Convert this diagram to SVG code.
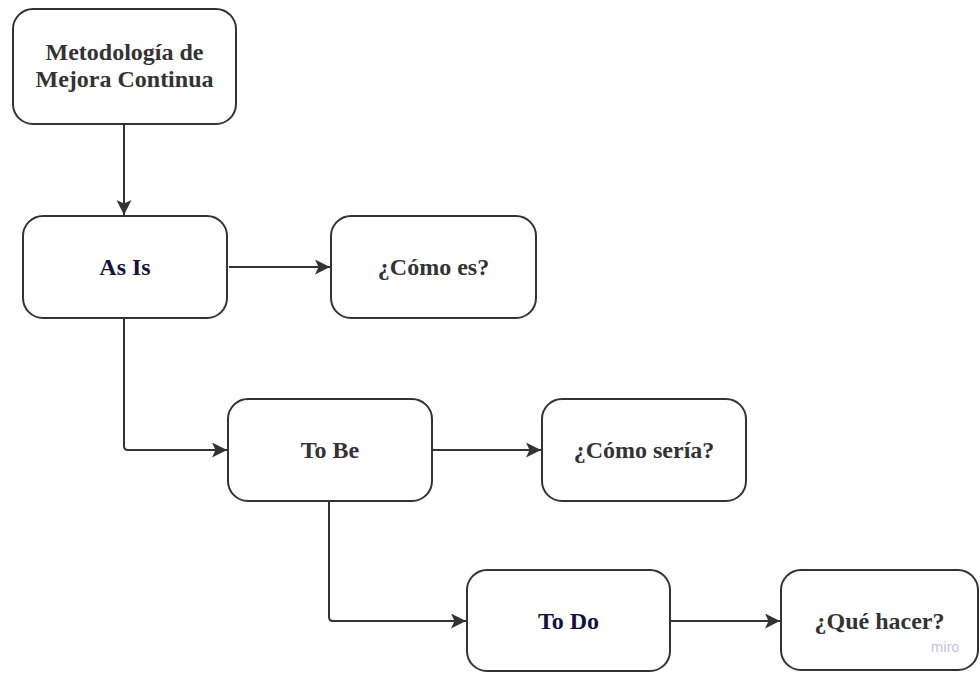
<svg xmlns="http://www.w3.org/2000/svg" width="980" height="673" viewBox="0 0 980 673">
<defs>
<marker id="arr" viewBox="0 0 15 15" refX="15" refY="7.5" markerWidth="15" markerHeight="15" markerUnits="userSpaceOnUse" orient="auto">
<path d="M0,0 L15,7.5 L0,15 L3.5,7.5 Z" fill="#333333"/>
</marker>
<style>
.box{fill:#ffffff;stroke:#333333;stroke-width:2}
.t{font-family:"Liberation Serif","Times New Roman",serif;font-weight:bold;font-size:24px;fill:#333333;text-anchor:middle}
.n{fill:#15123f}
.c{fill:none;stroke:#333333;stroke-width:2;marker-end:url(#arr)}
</style>
</defs>
<rect width="980" height="673" fill="#ffffff"/>
<g id="connectors">
<path class="c" d="M124,124 L124,215"/>
<path class="c" d="M229,267 L330,267"/>
<path class="c" d="M124,319 L124,446 Q124,450 128,450 L227,450"/>
<path class="c" d="M433,450 L541,450"/>
<path class="c" d="M329,502 L329,617 Q329,621 333,621 L466,621"/>
<path class="c" d="M671,621 L780,621"/>
</g>
<g id="node-metodologia">
<rect class="box" x="13" y="9" width="223" height="115" rx="20"/>
<text class="t" x="124.5" y="60">Metodología de</text>
<text class="t" x="124.5" y="87">Mejora Continua</text>
</g>
<g id="node-asis">
<rect class="box" x="23" y="216" width="204" height="102" rx="20"/>
<text class="t n" x="125" y="275">As Is</text>
</g>
<g id="node-comoes">
<rect class="box" x="331" y="216" width="205" height="102" rx="20"/>
<text class="t" x="433.5" y="275">¿Cómo es?</text>
</g>
<g id="node-tobe">
<rect class="box" x="228" y="399" width="204" height="102" rx="20"/>
<text class="t" x="330" y="458">To Be</text>
</g>
<g id="node-comoseria">
<rect class="box" x="542" y="399" width="204" height="102" rx="20"/>
<text class="t" x="644" y="458">¿Cómo sería?</text>
</g>
<g id="node-todo">
<rect class="box" x="467" y="570" width="203" height="101" rx="20"/>
<text class="t n" x="568.5" y="629">To Do</text>
</g>
<g id="node-quehacer">
<rect class="box" x="781" y="570" width="197" height="100" rx="20"/>
<text class="t" x="879.5" y="629">¿Qué hacer?</text>
</g>
<text x="931" y="652" font-family="Roboto, 'Liberation Sans', sans-serif" font-size="14" fill="#c4c4d4">miro</text>
</svg>
